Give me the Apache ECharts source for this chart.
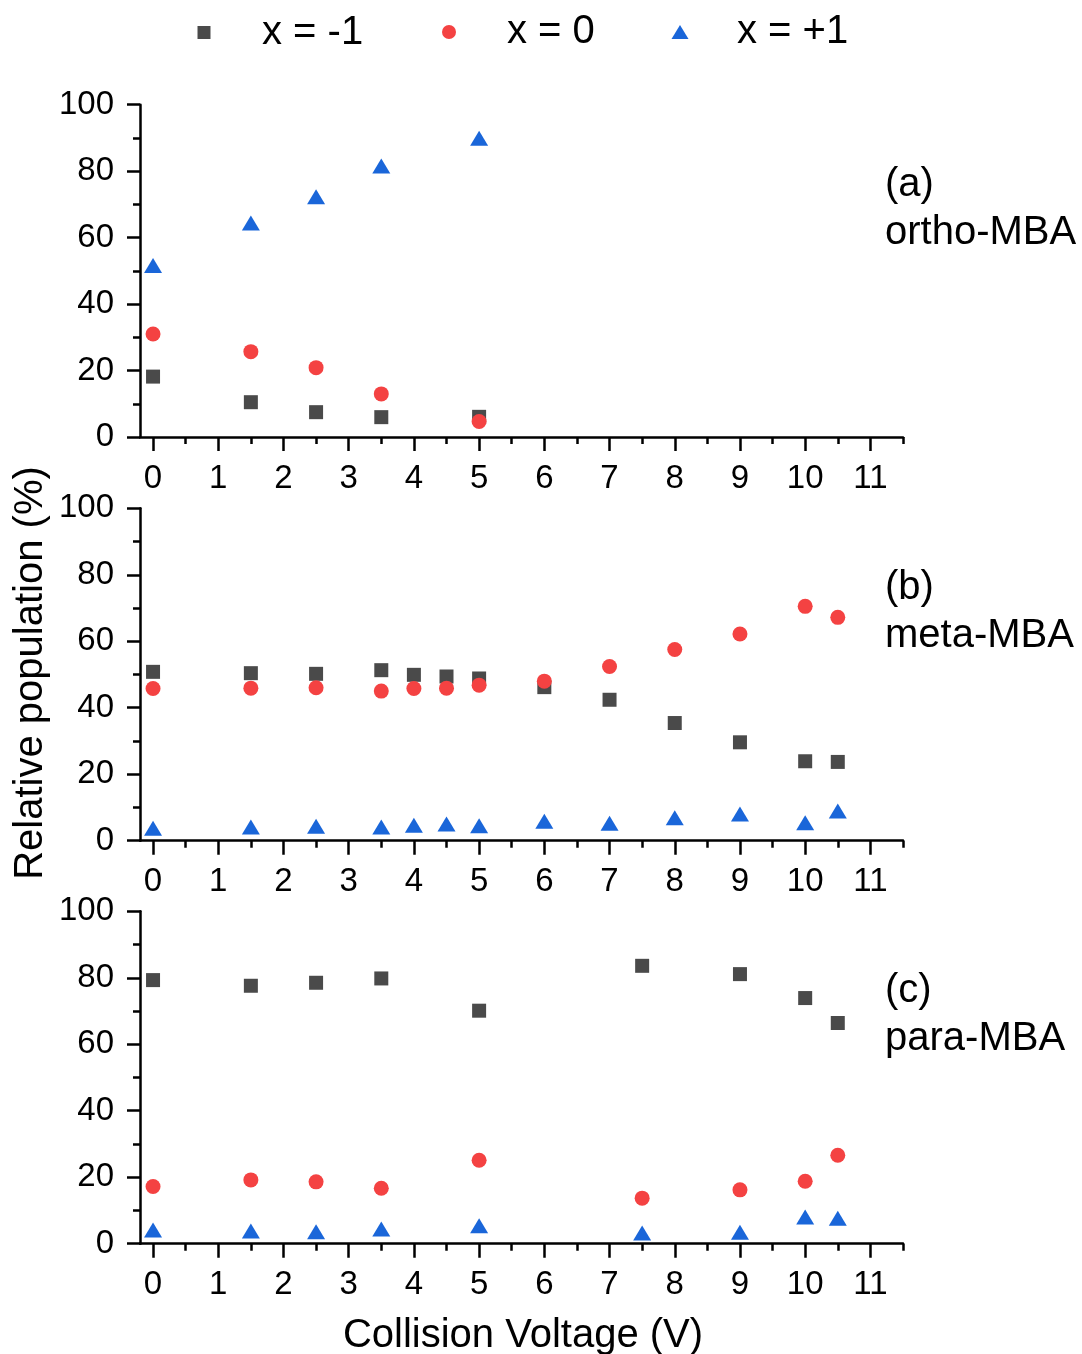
<!DOCTYPE html>
<html><head><meta charset="utf-8">
<script src="https://cdn.jsdelivr.net/npm/echarts@6/dist/echarts.min.js"></script>
<style>html,body{margin:0;padding:0;background:#fff}#c{width:1082px;height:1354px}</style>
</head><body><div id="c"></div>
<script>
// ---- data ----
const xTickValues = [0, 1, 2, 3, 4, 5, 6, 7, 8, 9, 10, 11];
const xMinorValues = [0.5, 1.5, 2.5, 3.5, 4.5, 5.5, 6.5, 7.5, 8.5, 9.5, 10.5, 11.5];
const seriesNames = ['x = -1', 'x = 0', 'x = +1'];
const panelLetters = ['(a)', '(b)', '(c)'];
const panelNames = ['ortho-MBA', 'meta-MBA', 'para-MBA'];
const xTitle = 'Collision Voltage (V)';
const yTitle = 'Relative population (%)';

const orthoX  = [0, 1.5, 2.5, 3.5, 5];
const orthoM1 = [18.2, 10.5, 7.5, 6.0, 6.1];
const orthoZ  = [31.0, 25.7, 20.9, 13.0, 4.7];
const orthoP1 = [50.9, 63.7, 71.6, 80.8, 89.2];

const metaX  = [0, 1.5, 2.5, 3.5, 4, 4.5, 5, 6, 7, 8, 9, 10, 10.5];
const metaM1 = [50.8, 50.4, 50.2, 51.3, 49.9, 49.4, 48.8, 46.2, 42.4, 35.4, 29.6, 23.9, 23.7];
const metaZ  = [45.8, 45.9, 46.0, 45.0, 45.8, 45.9, 46.8, 48.0, 52.4, 57.5, 62.2, 70.5, 67.2];
const metaP1 = [3.0, 3.4, 3.6, 3.4, 3.9, 4.3, 3.8, 5.1, 4.5, 6.2, 7.3, 4.7, 8.2];

const paraX  = [0, 1.5, 2.5, 3.5, 5, 7.5, 9, 10, 10.5];
const paraM1 = [79.3, 77.6, 78.5, 79.8, 70.1, 83.6, 81.1, 73.9, 66.4];
const paraZ  = [17.2, 19.2, 18.6, 16.7, 25.1, 13.7, 16.2, 18.8, 26.6];
const paraP1 = [3.4, 3.1, 2.9, 3.7, 4.7, 2.5, 2.7, 7.3, 6.9];

// ---- layout / style ----
const FONT = 'Liberation Sans, Arial, Helvetica, sans-serif';
const gridTops = [104.7, 508.3, 911.3];
const gridH = 332.4, gridL = 140, gridW = 763;
const styles = [
  {symbol: 'rect', size: 14, color: '#4a4a4a', offset: [0, 0]},
  {symbol: 'circle', size: 15, color: '#f44242', offset: [0, 0]},
  {symbol: 'triangle', size: [18, 15], color: '#1a66d9', offset: [0, -2.4]}
];
const panels = [
  [orthoX, [orthoM1, orthoZ, orthoP1]],
  [metaX, [metaM1, metaZ, metaP1]],
  [paraX, [paraM1, paraZ, paraP1]]
];

const grid = [], xAxis = [], yAxis = [], series = [], graphic = [];
gridTops.forEach((t, i) => {
  grid.push({left: gridL, top: t, width: gridW, height: gridH});
  xAxis.push({
    type: 'value', gridIndex: i, min: -0.2, max: 11.5, position: 'bottom',
    axisLine: {show: true, onZero: false, lineStyle: {color: '#000', width: 2.5}},
    axisTick: {show: true, inside: false, length: 14, customValues: xTickValues, lineStyle: {color: '#000', width: 2.5}},
    axisLabel: {show: true, customValues: xTickValues, fontSize: 33, fontFamily: FONT, color: '#000', margin: 25},
    splitLine: {show: false}
  });
  xAxis.push({
    type: 'value', gridIndex: i, min: -0.2, max: 11.5, position: 'bottom',
    axisLine: {show: false},
    axisTick: {show: true, inside: false, length: 7, customValues: xMinorValues, lineStyle: {color: '#000', width: 2.5}},
    axisLabel: {show: false},
    splitLine: {show: false}
  });
  yAxis.push({
    type: 'value', gridIndex: i, min: 0, max: 100, interval: 20,
    axisLine: {show: true, onZero: false, lineStyle: {color: '#000', width: 2.5}},
    axisTick: {show: true, inside: false, length: 13, lineStyle: {color: '#000', width: 2.5}},
    minorTick: {show: true, splitNumber: 2, length: 7, lineStyle: {color: '#000', width: 2.5}},
    axisLabel: {fontSize: 33, fontFamily: FONT, color: '#000', margin: 26},
    splitLine: {show: false}
  });
  const [xs, ysets] = panels[i];
  ysets.forEach((ys, k) => {
    const st = styles[k];
    series.push({
      type: 'scatter', name: seriesNames[k], xAxisIndex: 2 * i, yAxisIndex: i,
      symbol: st.symbol, symbolSize: st.size, symbolOffset: st.offset,
      itemStyle: {color: st.color, opacity: 1},
      emphasis: {disabled: true},
      data: xs.map((x, j) => [x, ys[j]])
    });
  });
  graphic.push({type: 'text', x: 885, y: t + 80, style: {text: panelLetters[i], font: '40px ' + FONT, fill: '#000', textAlign: 'left', textVerticalAlign: 'middle'}});
  graphic.push({type: 'text', x: 885, y: t + 128, style: {text: panelNames[i], font: '40px ' + FONT, fill: '#000', textAlign: 'left', textVerticalAlign: 'middle'}});
});
graphic.push({type: 'text', x: 523, y: 1336, style: {text: xTitle, font: '40px ' + FONT, fill: '#000', textAlign: 'center', textVerticalAlign: 'middle'}});
graphic.push({type: 'text', x: 31, y: 673, rotation: Math.PI / 2, style: {text: yTitle, font: '40px ' + FONT, fill: '#000', textAlign: 'center', textVerticalAlign: 'middle'}});

const legendSpecs = [
  {left: 197.5, w: 13, h: 13, pad: 46.5},
  {left: 442, w: 14, h: 14, pad: 46},
  {left: 671.5, w: 17, h: 14, pad: 43.5}
];
const legend = legendSpecs.map((s, k) => ({
  data: [seriesNames[k]], left: s.left, top: 19 - s.h / 2, padding: 0,
  itemWidth: s.w, itemHeight: s.h, selectedMode: false,
  textStyle: {fontSize: 40, fontFamily: FONT, color: '#000', padding: [12, 0, 0, s.pad]}
}));

const chart = echarts.init(document.getElementById('c'), null, {renderer: 'canvas'});
chart.setOption({
  backgroundColor: '#fff', animation: false,
  grid, xAxis, yAxis, series, legend, graphic
});
</script></body></html>
